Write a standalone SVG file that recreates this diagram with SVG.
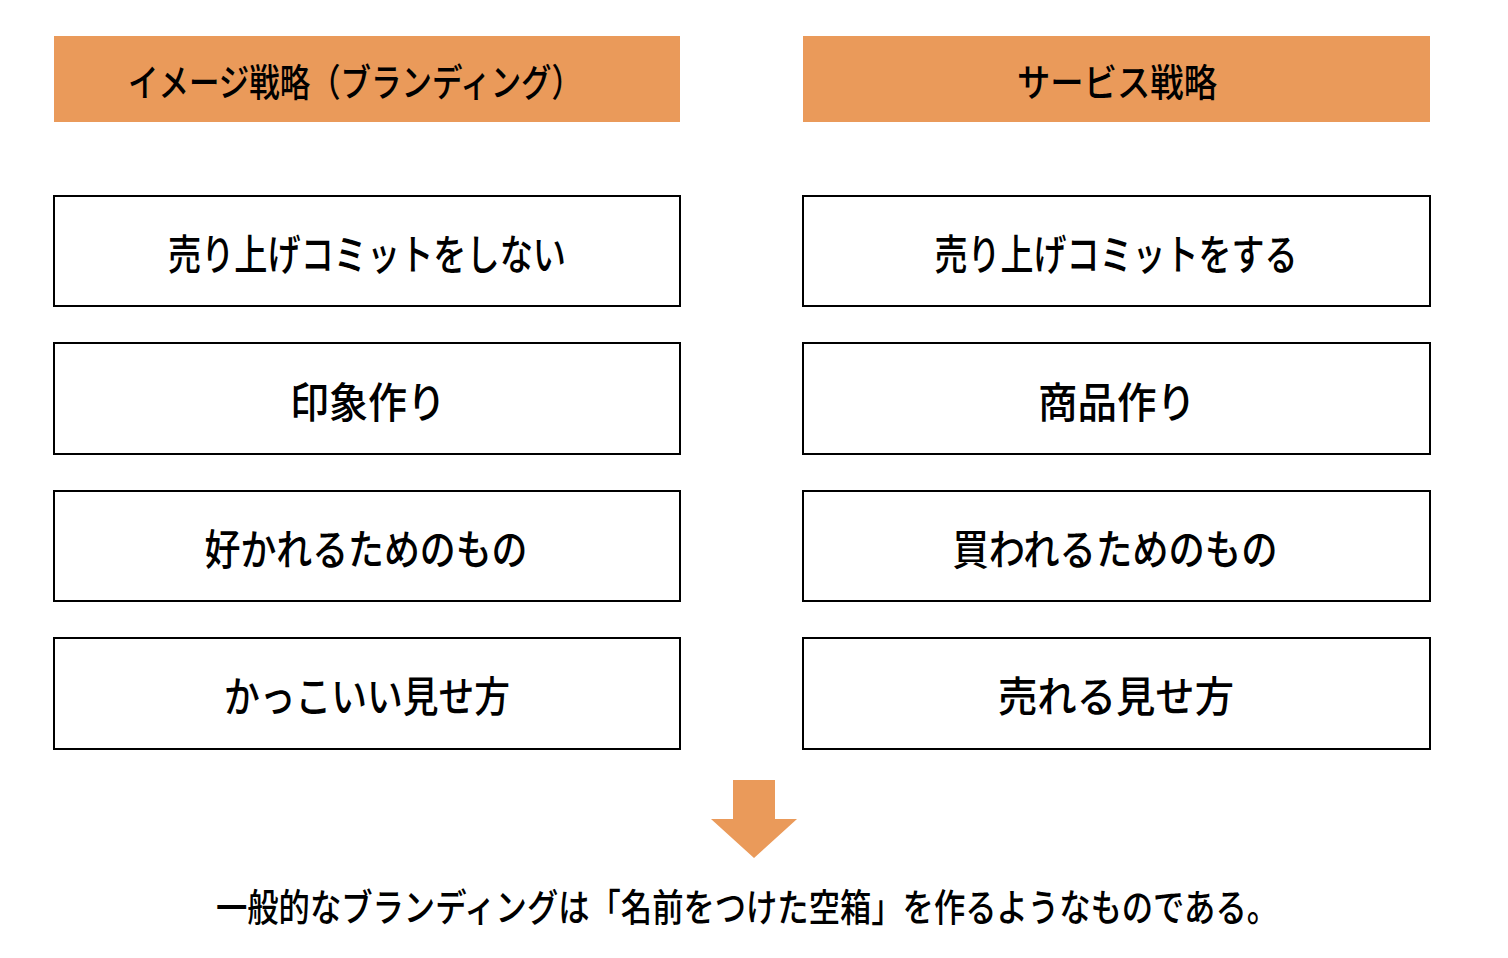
<svg xmlns="http://www.w3.org/2000/svg" width="1508" height="958" viewBox="0 0 1508 958">
<style>
.hdr{fill:#EA9A5A}
.box{fill:#fff;stroke:#000;stroke-width:2}
text{font-family:"Noto Sans CJK JP","Noto Sans",sans-serif;fill:#000;text-anchor:middle;dominant-baseline:central;font-weight:500}
.h{font-size:38px}
.b{font-size:42px}
.f{font-size:38px}
</style>
<rect width="1508" height="958" fill="#fff"/>
<g id="hdr-left"><rect class="hdr" x="54" y="36" width="626" height="86"/><text class="h" x="355" y="79" textLength="454" lengthAdjust="spacingAndGlyphs">イメージ戦略（ブランディング）</text></g>
<g id="hdr-right"><rect class="hdr" x="803" y="36" width="627" height="86"/><text class="h" x="1117" y="79" textLength="200" lengthAdjust="spacingAndGlyphs">サービス戦略</text></g>
<g id="l1"><rect class="box" x="54" y="196" width="626" height="110"/><text class="b" x="367" y="251" textLength="398" lengthAdjust="spacingAndGlyphs">売り上げコミットをしない</text></g>
<g id="r1"><rect class="box" x="803" y="196" width="627" height="110"/><text class="b" x="1116" y="251" textLength="363" lengthAdjust="spacingAndGlyphs">売り上げコミットをする</text></g>
<g id="l2"><rect class="box" x="54" y="343" width="626" height="111"/><text class="b" x="368" y="399" textLength="156" lengthAdjust="spacingAndGlyphs">印象作り</text></g>
<g id="r2"><rect class="box" x="803" y="343" width="627" height="111"/><text class="b" x="1117" y="399" textLength="158" lengthAdjust="spacingAndGlyphs">商品作り</text></g>
<g id="l3"><rect class="box" x="54" y="491" width="626" height="110"/><text class="b" x="366" y="546" textLength="323" lengthAdjust="spacingAndGlyphs">好かれるためのもの</text></g>
<g id="r3"><rect class="box" x="803" y="491" width="627" height="110"/><text class="b" x="1115" y="546" textLength="325" lengthAdjust="spacingAndGlyphs">買われるためのもの</text></g>
<g id="l4"><rect class="box" x="54" y="638" width="626" height="111"/><text class="b" x="367" y="693" textLength="286" lengthAdjust="spacingAndGlyphs">かっこいい見せ方</text></g>
<g id="r4"><rect class="box" x="803" y="638" width="627" height="111"/><text class="b" x="1116" y="693" textLength="236" lengthAdjust="spacingAndGlyphs">売れる見せ方</text></g>
<g id="connectors"><polygon points="733,780 775,780 775,819 797,819 754,858 711,819 733,819" fill="#EA9A5A"/></g>
<g id="conclusion"><text class="f" x="747" y="904" textLength="1062" lengthAdjust="spacingAndGlyphs">一般的なブランディングは「名前をつけた空箱」を作るようなものである。</text></g>
</svg>
